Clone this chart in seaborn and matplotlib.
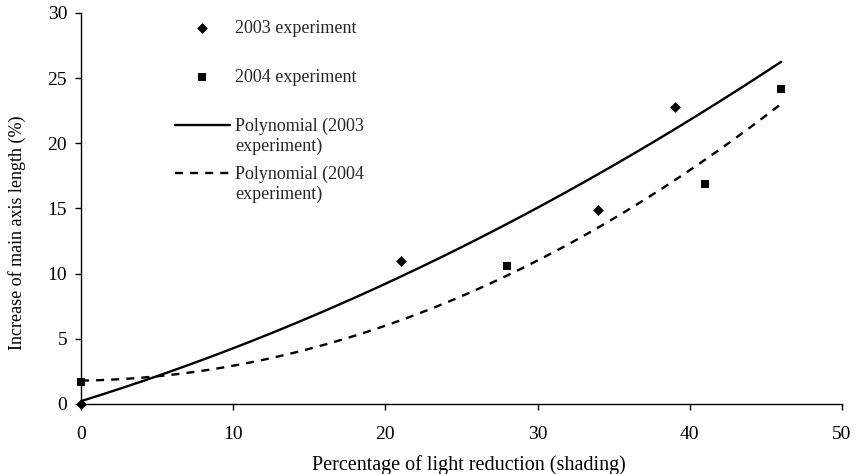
import numpy as np
import pandas as pd
import matplotlib
matplotlib.use("Agg")
import matplotlib.pyplot as plt
from matplotlib.legend_handler import HandlerLine2D
import seaborn as sns

# Shading experiments: light reduction (%) vs. increase of main axis length (%)
shade_2003 = [0, 21, 34, 39]
growth_2003 = [0.0, 11.0, 14.9, 22.8]
shade_2004 = [0, 28, 41, 46]
growth_2004 = [1.7, 10.6, 16.9, 24.2]

x_ticks = [0, 10, 20, 30, 40, 50]
y_ticks = [0, 5, 10, 15, 20, 25, 30]

sns.set_theme(style="white")
plt.rcParams["font.family"] = ["Liberation Serif", "DejaVu Serif"]

LEG_FS = 13


class FirstLineHandler(HandlerLine2D):
    """Line handle aligned with the first line of a two-line label."""

    def create_artists(self, legend, orig_handle, xdescent, ydescent,
                       width, height, fontsize, trans):
        arts = super().create_artists(legend, orig_handle, xdescent, ydescent,
                                      width, height, fontsize, trans)
        for a in arts:
            a.set_ydata(np.asarray(a.get_ydata()) + 0.62 * fontsize)
        return arts


fig = plt.figure(figsize=(8.56, 4.74), dpi=100)
ax = fig.add_axes([0.0946, 0.1477, 0.889, 0.825])

# second-order polynomial trend lines fitted to each year's points
c03 = np.polyfit(shade_2003, growth_2003, 2)
c04 = np.polyfit(shade_2004, growth_2004, 2)
xs = np.linspace(0, 46, 200)
trend = pd.DataFrame({"x": xs, "y03": np.polyval(c03, xs), "y04": np.polyval(c04, xs)})

sns.scatterplot(x=shade_2003, y=growth_2003, marker="D", s=30, color="black",
                linewidth=0, ax=ax, label="2003 experiment", zorder=3, clip_on=False)
sns.scatterplot(x=shade_2004, y=growth_2004, marker="s", s=36, color="black",
                linewidth=0, ax=ax, label="2004 experiment", zorder=3, clip_on=False)
sns.lineplot(data=trend, x="x", y="y03", color="black", lw=1.7, ax=ax,
             label="Polynomial (2003\nexperiment)")
sns.lineplot(data=trend, x="x", y="y04", color="black", lw=1.7, ax=ax,
             label="Polynomial (2004\nexperiment)", linestyle=(0, (3.4, 3.0)))

ax.set_xlim(0, 50)
ax.set_ylim(0, 30)
ax.set_xticks(x_ticks)
ax.set_yticks(y_ticks)
ax.tick_params(axis="both", which="major", direction="out", length=4, width=1,
               color="black", labelsize=14, labelcolor="black",
               bottom=True, left=True)
ax.tick_params(axis="x", pad=12)
ax.tick_params(axis="y", pad=6)
for side in ("top", "right"):
    ax.spines[side].set_visible(False)
for side in ("left", "bottom"):
    ax.spines[side].set_color("black")
    ax.spines[side].set_linewidth(1.0)

ax.set_xlabel("Percentage of light reduction (shading)", fontsize=14.5, color="black")
ax.set_ylabel("Increase of main axis length (%)", fontsize=13, color="black")
ax.xaxis.set_label_coords(0.51, -0.13)
ax.yaxis.set_label_coords(-0.072, 0.437)

handles, labels = ax.get_legend_handles_labels()
ax.get_legend().remove()

common = dict(loc="upper left", frameon=False, fontsize=LEG_FS, handlelength=3.05,
              handletextpad=0.3, borderpad=0, borderaxespad=0)
leg_pts = ax.legend(handles[:2], labels[:2], bbox_to_anchor=(0.1235, 0.982),
                    labelspacing=1.77, **common)
ax.add_artist(leg_pts)
ax.legend(handles[2:], labels[2:], bbox_to_anchor=(0.1235, 0.732),
          labelspacing=0.58, handler_map={h: FirstLineHandler() for h in handles[2:]},
          **common)

fig.savefig("out.png", dpi=100)
